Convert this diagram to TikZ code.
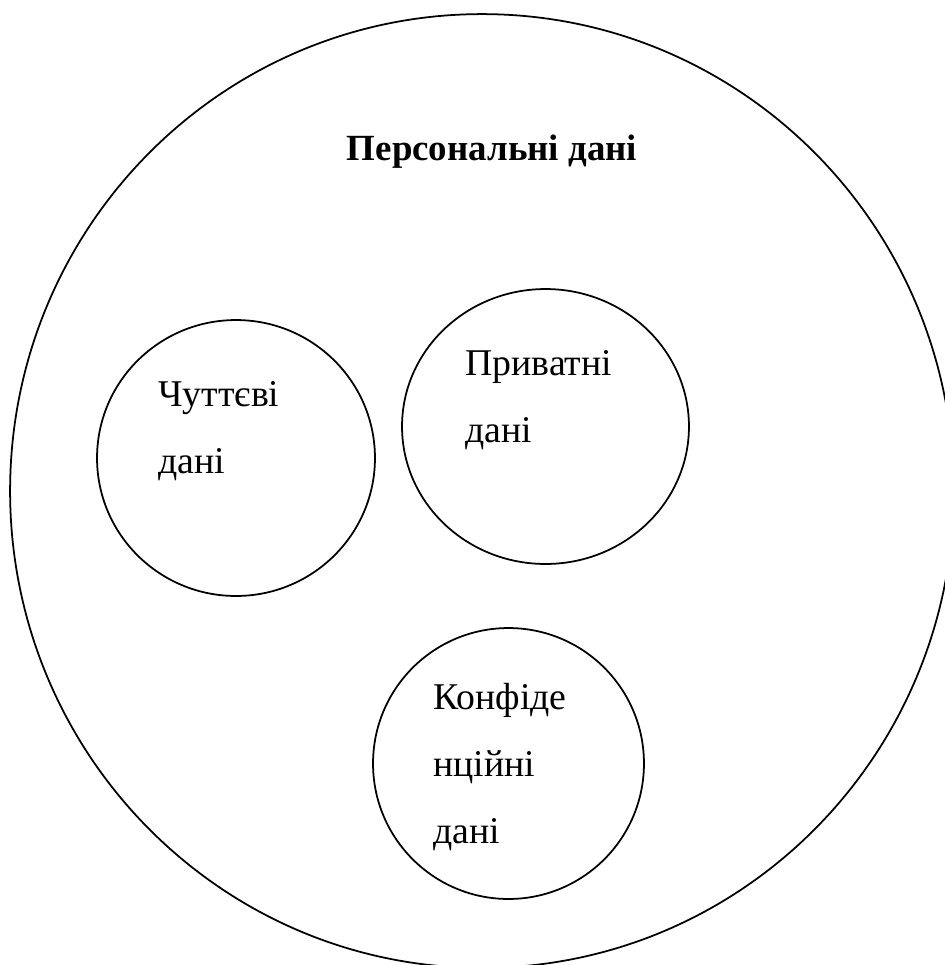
\documentclass[tikz,border=0pt]{standalone}
\usepackage{fontspec}
\setmainfont{Liberation Serif}
\usepackage{tikz}
\usetikzlibrary{positioning, shapes.geometric}

\begin{document}
\begin{tikzpicture}[
      x=0.02cm, y=-0.02cm,
      blob/.style={draw, ellipse, line width=1pt, inner sep=0pt, outer sep=0pt},
      lbl/.style={inner sep=0pt, align=left, anchor=base west, font=\fontsize{21.5pt}{38.1pt}\selectfont},
      ttl/.style={inner sep=0pt, anchor=base, font=\fontsize{21pt}{38.1pt}\selectfont\bfseries},
    ]
    \useasboundingbox (0,0) rectangle (945,965);
    \clip (0,0) rectangle (945,965);
    % outer set
    \node[blob, minimum width=18.88cm, minimum height=19.08cm] (pers) at (482,491) {};
    \node[ttl] (persTxt) at (492,160) {Персональні дані};
    % inner sets
    \node[blob, minimum width=5.56cm, minimum height=5.52cm] (sens) at (236,458) {};
    \node[blob, minimum width=5.74cm, minimum height=5.50cm] (priv) at (545.5,426.5) {};
    \node[blob, minimum width=5.42cm, minimum height=5.42cm] (conf) at (508.5,763.5) {};
    \node[lbl] (sensTxt) at (158,473) {Чуттєві\\дані};
    \node[lbl] (privTxt) at (465,442) {Приватні\\дані};
    \node[lbl] (confTxt) at (433,843) {Конфіде\\нційні\\дані};
  \end{tikzpicture}
\end{document}
